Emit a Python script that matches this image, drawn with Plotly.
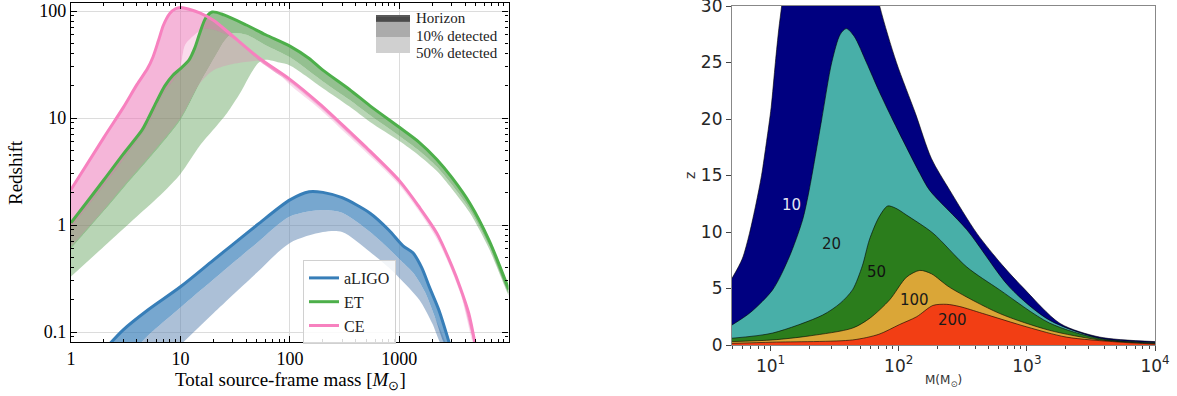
import math
import plotly.graph_objects as go

# ---------------- Left panel data (source-frame mass [Msun] -> redshift) ----------------
aligo_h_M = [2.27, 3, 5, 10, 20, 50, 100, 150, 200, 300, 540, 800, 1080, 1330, 1600, 1890, 2300, 2900]
aligo_h_z = [0.078, 0.105, 0.16, 0.265, 0.47, 1.0, 1.72, 2.05, 2.02, 1.8, 1.29, 0.9, 0.64, 0.55, 0.4, 0.26, 0.16, 0.075]
aligo_10_M = [4.3, 5, 10, 20, 50, 100, 200, 300, 540, 800, 1000, 1330, 1700, 2100, 2650]
aligo_10_z = [0.078, 0.092, 0.17, 0.31, 0.68, 1.2, 1.38, 1.3, 0.86, 0.6, 0.48, 0.36, 0.24, 0.14, 0.075]
aligo_50_M = [10.3, 20, 50, 100, 200, 300, 540, 800, 1000, 1520, 2000, 2450]
aligo_50_z = [0.078, 0.15, 0.36, 0.68, 0.86, 0.86, 0.56, 0.4, 0.32, 0.2, 0.12, 0.075]

et_h_M = [1, 1.5, 2, 3, 4.45, 5, 6, 7.2, 8.5, 10, 12, 13.5, 15, 17, 19.5, 25, 40, 60, 100, 150, 200, 350, 540, 1000, 1500, 2200, 3000, 4400, 6600, 10000]
et_h_z = [1.05, 1.8, 2.65, 4.6, 7.7, 9.6, 14, 20, 25, 29, 35, 45, 62, 86, 98, 92, 74, 60, 47, 36, 28, 18.5, 13, 8.2, 6.0, 4.1, 2.8, 1.6, 0.72, 0.25]
et_10_M = [1, 2, 3, 5, 10, 15, 21.5, 25, 30, 40, 60, 100, 200, 350, 540, 1000, 1500, 2200, 3000, 4400, 6600, 10000]
et_10_z = [0.6, 1.35, 2.2, 4.0, 9.6, 21, 40, 52, 62, 60, 48, 37, 22, 14.8, 10.6, 6.8, 5.0, 3.5, 2.4, 1.4, 0.64, 0.23]
et_50_M = [1, 2, 4, 6.9, 10, 15, 20, 26.6, 35, 45, 52, 60, 80, 100, 200, 350, 540, 1000, 1500, 2200, 3000, 4400, 6600, 10000]
et_50_z = [0.33, 0.63, 1.2, 2.0, 3.0, 5.5, 7.8, 11.1, 17, 27, 33, 35, 33, 31, 19, 12.8, 9.2, 6.1, 4.5, 3.2, 2.2, 1.3, 0.6, 0.22]

ce_h_M = [1, 2, 3, 4, 5, 5.6, 6.3, 7, 8, 9, 10, 12, 15, 20, 28, 53, 100, 188, 354, 500, 1000, 1500, 2200, 3000, 3600, 4300, 4950]
ce_h_z = [2.15, 6.6, 12.5, 20.5, 29, 37, 53, 74, 95, 105, 108, 104, 96, 82, 62, 36, 23, 13.5, 7.4, 5.3, 2.6, 1.5, 0.84, 0.42, 0.26, 0.15, 0.075]
ce_10_M = [1, 2, 3, 5, 7, 9, 10, 11, 13.5, 16, 20, 30, 53, 100, 188, 354, 1000, 2200, 3600, 4900]
ce_10_z = [0.95, 2.35, 4.1, 8.6, 17, 24, 30, 48, 60, 68, 67, 56, 34, 21.5, 12.6, 6.9, 2.45, 0.78, 0.24, 0.075]
ce_50_M = [1, 2, 3, 5, 10, 15, 20, 30, 45, 53, 70, 100, 188, 354, 1000, 2200, 3600, 4800]
ce_50_z = [0.63, 1.4, 2.3, 4.2, 10, 21, 28, 32, 34, 34, 29, 20.5, 12.1, 6.6, 2.35, 0.74, 0.23, 0.075]

detectors = ["aLIGO", "ET", "CE"]
line_colors = ["#377eb8", "#4daf4a", "#f781bf"]
dark_fill = ["rgba(55,126,184,0.68)", "rgba(77,150,70,0.6)", "rgba(235,110,180,0.5)"]
light_fill = ["rgba(90,130,175,0.5)", "rgba(77,150,70,0.4)", "rgba(235,110,180,0.25)"]
curves = [
    (aligo_h_M, aligo_h_z, aligo_10_M, aligo_10_z, aligo_50_M, aligo_50_z),
    (et_h_M, et_h_z, et_10_M, et_10_z, et_50_M, et_50_z),
    (ce_h_M, ce_h_z, ce_10_M, ce_10_z, ce_50_M, ce_50_z),
]

l_xticks = [1, 10, 100, 1000, 10000]
l_xtick_text = ["1", "10", "100", "1000", "10\u2009000"]
l_yticks = [0.1, 1, 10, 100]
l_ytick_text = ["0.1", "1", "10", "100"]

key_labels = ["Horizon", "10% detected", "50% detected"]
key_colors = ["#5a5a5a", "#ababab", "#d0d0d0"]

# ---------------- Right panel data (M [Msun] -> z boundary of SNR level) ----------------
snr_levels = ["10", "20", "50", "100", "200"]
navy_M = [5, 6, 6.85, 7.7, 8.5, 9.3, 10.1, 10.9, 11.6, 12.2, 14, 20, 35, 50, 71, 96, 135, 180, 250, 406, 640, 930, 1820, 3700, 10000]
navy_z = [5.9, 7.6, 9.9, 12.5, 15, 18, 21, 25, 28, 30, 36, 45, 45, 38, 30, 25, 20.5, 16.5, 13.7, 9.9, 7.1, 5.1, 1.9, 0.7, 0.3]
teal_M = [5, 7, 10.4, 14, 17.8, 20, 25, 30, 35, 39, 45, 56, 70, 90, 146, 174, 340, 735, 1500, 3700, 10000]
teal_z = [1.77, 2.9, 4.9, 7.8, 11.1, 13.7, 19.9, 25, 27.5, 28, 27.3, 25, 22.5, 19.9, 15.2, 13.7, 10.2, 5.1, 2.2, 0.6, 0.22]
green_M = [5, 10.4, 25.5, 35, 43.7, 52, 59, 70, 82, 95, 115, 185, 340, 610, 1500, 3700, 10000]
green_z = [0.6, 1.06, 2.65, 3.7, 4.9, 7.0, 9.3, 11.3, 12.3, 12.1, 11.5, 9.9, 6.9, 4.9, 1.95, 0.55, 0.16]
gold_M = [5, 10.4, 20, 43.7, 60, 85, 115, 146, 180, 250, 610, 1500, 3700, 10000]
gold_z = [0.3, 0.45, 0.8, 1.5, 2.4, 4.0, 6.0, 6.6, 6.3, 5.1, 2.8, 1.3, 0.45, 0.11]
red_M = [5, 10.4, 43.7, 70, 101, 138, 185, 237, 300, 450, 1000, 2030, 5100, 10000]
red_z = [0.15, 0.25, 0.45, 0.95, 1.8, 2.5, 3.5, 3.6, 3.4, 2.8, 1.6, 0.7, 0.27, 0.08]
snr_curves = [(navy_M, navy_z), (teal_M, teal_z), (green_M, green_z), (gold_M, gold_z), (red_M, red_z)]
snr_colors = ["#000080", "#48afa8", "#2b7d1c", "#daa637", "#f23e14"]
label_M = [14.6, 30, 67, 133, 262]
label_z = [12.4, 8.9, 6.5, 4.0, 2.2]
label_colors = ["#e6e6f2", "#1a1a1a", "#111111", "#1a1a1a", "#1a1a1a"]

r_xticks = [10, 100, 1000, 10000]
r_xtick_text = ["10<sup>1</sup>", "10<sup>2</sup>", "10<sup>3</sup>", "10<sup>4</sup>"]
r_yticks = [0, 5, 10, 15, 20, 25, 30]

# ---------------- figure ----------------
fig = go.Figure()

# Left: fills first
for i, (hM, hz, aM, az, bM, bz) in enumerate(curves):
    fig.add_trace(go.Scatter(x=list(hM) + list(aM)[::-1], y=list(hz) + list(az)[::-1],
                             fill="toself", fillcolor=dark_fill[i], mode="lines",
                             line=dict(width=0, shape="spline", smoothing=0.8),
                             hoverinfo="skip", showlegend=False, xaxis="x", yaxis="y"))
    fig.add_trace(go.Scatter(x=list(aM) + list(bM)[::-1], y=list(az) + list(bz)[::-1],
                             fill="toself", fillcolor=light_fill[i], mode="lines",
                             line=dict(width=0, shape="spline", smoothing=0.8),
                             hoverinfo="skip", showlegend=False, xaxis="x", yaxis="y"))
for i, (hM, hz, aM, az, bM, bz) in enumerate(curves):
    fig.add_trace(go.Scatter(x=hM, y=hz, mode="lines", name=detectors[i],
                             line=dict(color=line_colors[i], width=3, shape="spline", smoothing=0.8),
                             legend="legend", xaxis="x", yaxis="y"))

# Right: filled SNR regions
for (M, z), c in zip(snr_curves, snr_colors):
    fig.add_trace(go.Scatter(x=M, y=z, mode="lines", fill="tozeroy", fillcolor=c,
                             line=dict(color="rgba(0,0,0,0.75)", width=0.8, shape="spline", smoothing=0.8),
                             hoverinfo="skip", showlegend=False, xaxis="x2", yaxis="y2"))

for t, m, z, c in zip(snr_levels, label_M, label_z, label_colors):
    fig.add_annotation(x=math.log10(m), y=z, xref="x2", yref="y2", text=t, showarrow=False,
                       xanchor="center", yanchor="middle",
                       font=dict(family="DejaVu Sans", size=15, color=c))

shapes = []
# Right grid lines drawn above the fills
for v in r_xticks[:-1]:
    shapes.append(dict(type="line", xref="x2", yref="y2", x0=math.log10(v), x1=math.log10(v), y0=0, y1=30,
                       line=dict(color="rgba(200,200,200,0.75)", width=1), layer="above"))
for v in r_yticks[1:-1]:
    shapes.append(dict(type="line", xref="x2", yref="y2", x0=math.log10(5), x1=4, y0=v, y1=v,
                       line=dict(color="rgba(200,200,200,0.75)", width=1), layer="above"))

# Grey key (top-right of left panel): stacked swatches + labels
key_rows = [(15, 22), (22, 37), (37, 53)]
for (ya, yb), col in zip(key_rows, key_colors):
    shapes.append(dict(type="rect", xref="paper", yref="paper", x0=376 / 1177, x1=410 / 1177,
                       y0=1 - yb / 396, y1=1 - ya / 396, fillcolor=col, line=dict(width=0), layer="above"))
shapes.append(dict(type="line", xref="paper", yref="paper", x0=376 / 1177, x1=410 / 1177,
                   y0=1 - 19 / 396, y1=1 - 19 / 396, line=dict(color="#4a4a4a", width=4), layer="above"))
for lab, yc in zip(key_labels, [18, 36, 53]):
    fig.add_annotation(x=414 / 1177, y=1 - yc / 396, xref="paper", yref="paper", text=lab, showarrow=False,
                       xanchor="left", yanchor="middle", font=dict(family="Liberation Serif", size=15, color="#222"))

serif = "Liberation Serif"
sans = "DejaVu Sans"

def minor_vals(e0, e1):
    return [k * 10 ** e for e in range(e0, e1) for k in range(2, 10)]

fig.update_layout(
    width=1177, height=396, margin=dict(l=0, r=0, t=0, b=0, autoexpand=False),
    paper_bgcolor="white", plot_bgcolor="white", shapes=shapes,
    xaxis=dict(domain=[71 / 1177, 508.5 / 1177], type="log", range=[0, 3.997], automargin=False,
               tickmode="array", tickvals=l_xticks, ticktext=l_xtick_text,
               ticks="inside", ticklen=6, tickwidth=1, tickcolor="black", ticklabeloverflow="allow",
               minor=dict(tickmode="array", tickvals=minor_vals(0, 4), ticks="inside", ticklen=3, tickcolor="black", showgrid=False),
               showline=True, linecolor="black", linewidth=1.3, mirror="allticks",
               showgrid=True, gridcolor="#dcdcdc", gridwidth=1, zeroline=False,
               tickfont=dict(family=serif, size=18, color="black"), anchor="y"),
    yaxis=dict(domain=[1 - 342 / 396, 1 - 3 / 396], type="log", range=[-1.093, 2.075], automargin=False,
               tickmode="array", tickvals=l_yticks, ticktext=l_ytick_text,
               ticks="inside", ticklen=6, tickwidth=1, tickcolor="black", ticklabeloverflow="allow",
               minor=dict(tickmode="array", tickvals=minor_vals(-2, 3), ticks="inside", ticklen=3, tickcolor="black", showgrid=False),
               showline=True, linecolor="black", linewidth=1.3, mirror="allticks",
               showgrid=True, gridcolor="#dcdcdc", gridwidth=1, zeroline=False,
               tickfont=dict(family=serif, size=18, color="black"), anchor="x"),
    xaxis2=dict(domain=[732 / 1177, 1155 / 1177], type="log", range=[math.log10(5), 4], automargin=False,
                tickmode="array", tickvals=r_xticks, ticktext=r_xtick_text,
                ticks="outside", ticklen=5, tickwidth=1, tickcolor="#444", ticklabeloverflow="allow",
                minor=dict(tickmode="array", tickvals=minor_vals(0, 4), ticks="outside", ticklen=3, tickcolor="#444", showgrid=False),
                showline=True, linecolor="#888", linewidth=1.2, mirror=True,
                showgrid=False, zeroline=False,
                tickfont=dict(family=sans, size=17, color="#262626"), anchor="y2"),
    yaxis2=dict(domain=[1 - 345 / 396, 1 - 6 / 396], range=[0, 30], automargin=False,
                tickmode="array", tickvals=r_yticks, ticklabeloverflow="allow",
                ticks="outside", ticklen=5, tickwidth=1, tickcolor="#444",
                showline=True, linecolor="#888", linewidth=1.2, mirror=True,
                showgrid=False, zeroline=False,
                tickfont=dict(family=sans, size=17, color="#262626"), anchor="x2"),
    legend=dict(x=303 / 1177, y=1 - 260 / 396, xanchor="left", yanchor="top",
                bgcolor="rgba(255,255,255,0.85)", bordercolor="#d0d0d0", borderwidth=1, itemwidth=30,
                font=dict(family=serif, size=16, color="#222")),
)

# Axis titles
fig.add_annotation(x=290 / 1177, y=1 - 381 / 396, xref="paper", yref="paper", showarrow=False,
                   xanchor="center", yanchor="middle",
                   text="Total source-frame mass [<i>M</i><sub>\u2299</sub>]",
                   font=dict(family=serif, size=19, color="black"))
fig.add_annotation(x=15 / 1177, y=1 - 173 / 396, xref="paper", yref="paper", showarrow=False,
                   xanchor="center", yanchor="middle",
                   text="Redshift", textangle=-90, font=dict(family=serif, size=19, color="black"))
fig.add_annotation(x=943 / 1177, y=1 - 381 / 396, xref="paper", yref="paper", showarrow=False,
                   xanchor="center", yanchor="middle",
                   text="M(M<sub>\u2299</sub>)", font=dict(family=sans, size=12, color="#333"))
fig.add_annotation(x=690 / 1177, y=1 - 176 / 396, xref="paper", yref="paper", showarrow=False,
                   xanchor="center", yanchor="middle",
                   text="z", textangle=-90, font=dict(family=sans, size=14, color="#333"))

fig.write_html("out.html", config={"displayModeBar": False},
               post_script="document.body.style.margin='0px';document.body.style.overflow='hidden';")
